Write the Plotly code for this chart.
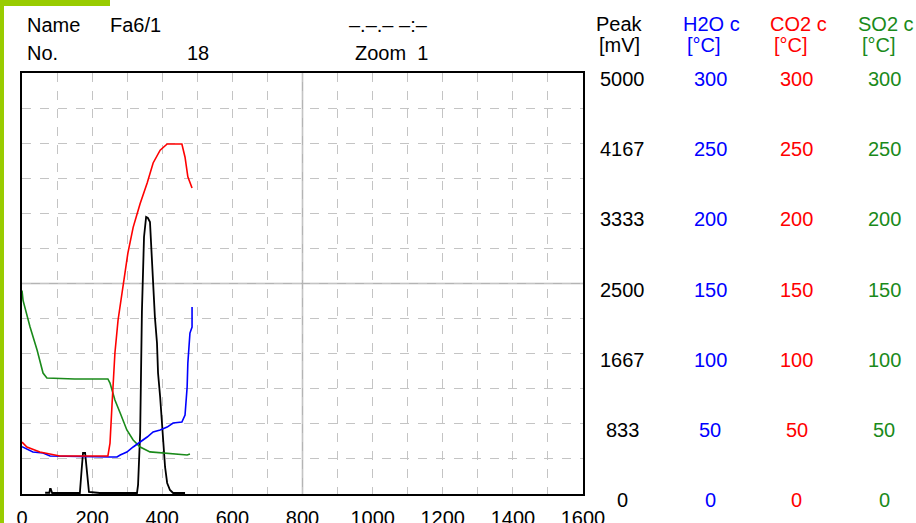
"""Thermogram Fa6/1 (No. 18): peak signal with H2O / CO2 / SO2 traces."""
import plotly.graph_objects as go

FONT = "Liberation Sans, Arial, sans-serif"
GRID = "#c4c4c4"
FRAME_GREEN = "#99cc00"

# Peak signal [mV]
peak_x = [66, 78, 80, 82, 86, 108, 165, 170, 172, 174, 180, 183, 186, 189, 191, 222,
          328, 331, 337, 342, 348, 354, 359, 365, 371, 374, 379, 385, 388, 394, 399,
          402, 408, 414, 422, 431, 465]
peak_mv = [15, 15, 60, 60, 12, 12, 12, 285, 487, 487, 487, 350, 225, 60, 24, 12,
           12, 107, 724, 2161, 3052, 3290, 3278, 3230, 2743, 2423, 2102, 1793, 1437,
           1152, 879, 606, 321, 131, 48, 12, 12]

# H2O c [°C scale]
h2o_x = [0, 31, 60, 80, 251, 271, 280, 299, 317, 337, 357, 374, 394, 414, 431,
         456, 465, 471, 473, 479, 485, 485]
h2o_v = [33.7, 29.9, 29.2, 27.1, 26.4, 26.4, 27.8, 29.9, 33.5, 37, 40.6, 44.2,
         45.6, 47.7, 50.6, 51.3, 56.3, 76.2, 93.3, 114.7, 119, 133.3]

# CO2 c [°C scale]
co2_x = [0, 14, 51, 88, 108, 245, 251, 257, 265, 274, 288, 302, 317, 337, 357,
         374, 394, 414, 456, 465, 473, 485]
co2_v = [37, 33.5, 29.9, 27.8, 27.1, 27.1, 36.3, 64.8, 100.5, 124, 147.5, 171.7,
         190, 207, 221.6, 235.9, 245, 249.4, 249.4, 240, 226, 218]

# SO2 c [°C scale]
so2_x = [0, 3, 23, 43, 60, 71, 150, 245, 251, 265, 280, 299, 317, 337, 365, 402,
         471, 479]
so2_v = [145, 138, 119, 102.6, 86.2, 82.7, 82, 82, 79, 67, 57.7, 45.6, 38.5,
         33.5, 30, 29.2, 27.8, 28.5]

x_ticks = [0, 200, 400, 600, 800, 1000, 1200, 1400, 1600]
peak_labels = ["5000", "4167", "3333", "2500", "1667", "833", "0"]
temp_labels = ["300", "250", "200", "150", "100", "50", "0"]

fig = go.Figure()
fig.add_trace(go.Scatter(x=peak_x, y=peak_mv, mode="lines", line=dict(color="black", width=1.8),
                         showlegend=False))
for xs, ys, col in [(so2_x, so2_v, "#1a8a1a"), (h2o_x, h2o_v, "#0000ff"), (co2_x, co2_v, "#ff0000")]:
    fig.add_trace(go.Scatter(x=xs, y=ys, mode="lines", yaxis="y2",
                             line=dict(color=col, width=1.6), showlegend=False))

fig.update_layout(
    width=916, height=523, autosize=False,
    margin=dict(l=22, r=333, t=73, b=29),
    paper_bgcolor="white", plot_bgcolor="white",
    font=dict(family=FONT, size=20, color="black"),
    xaxis=dict(range=[0, 1600], tickvals=x_ticks, showgrid=False, zeroline=False,
               showline=True, mirror=True, linecolor="black", linewidth=2,
               ticks="", ticklabelstandoff=5, automargin=False,
               minor=dict(dtick=100, tick0=0, showgrid=True, gridcolor=GRID, griddash="dash")),
    yaxis=dict(range=[0, 5000], tick0=0, dtick=5000 / 12, showticklabels=False,
               showgrid=True, gridcolor=GRID, griddash="dash", zeroline=False, automargin=False,
               showline=True, mirror=True, linecolor="black", linewidth=2, ticks=""),
    yaxis2=dict(range=[0, 300], overlaying="y", showgrid=False, showticklabels=False,
                zeroline=False, showline=False, automargin=False),
)

# solid centre lines
fig.add_shape(type="line", x0=800, x1=800, y0=0, y1=1, yref="paper",
              line=dict(color="#b4b4b4", width=1.5), layer="below")
fig.add_shape(type="line", x0=0, x1=1, xref="paper", y0=2500, y1=2500,
              line=dict(color="#b4b4b4", width=1.5), layer="below")

# green frame decoration
fig.add_shape(type="rect", xref="paper", yref="paper", x0=-22 / 561, x1=88 / 561,
              y0=1 + 67 / 421, y1=1 + 73 / 421, fillcolor=FRAME_GREEN, line_width=0)
fig.add_shape(type="rect", xref="paper", yref="paper", x0=-22 / 561, x1=-18 / 561,
              y0=-29 / 421, y1=1 + 73 / 421, fillcolor=FRAME_GREEN, line_width=0)


def px_text(text, x, y, color="black", anchor="left"):
    # x, y in page pixels -> paper coordinates of the plot area
    fig.add_annotation(text=text, x=(x - 22) / 561, y=(494 - y) / 421,
                       xref="paper", yref="paper", showarrow=False,
                       xanchor=anchor, yanchor="middle",
                       font=dict(family=FONT, size=20, color=color))


px_text("Name", 25, 25)
px_text("Fa6/1", 108, 25)
px_text("No.", 25, 53)
px_text("18", 198, 53, anchor="center")
px_text("–.–.– –:–", 388, 25, anchor="center")
px_text("Zoom  1", 353, 53)

px_text("Peak", 619, 24, anchor="center")
px_text("[mV]", 619, 45, anchor="center")
heads = [("H2O c", 681, "#0000ff", 710), ("CO2 c", 768, "#ff0000", 797), ("SO2 c", 856, "#1a8a1a", 884)]
for name, left, col, cx in heads:
    px_text(name, left, 24, col)
    px_text("[°C]", left + 4, 45, col)

for i, lab in enumerate(peak_labels):
    yy = 79 + i * 70.2
    px_text(lab, 622, yy, anchor="center")
    for name, left, col, cx in heads:
        px_text(temp_labels[i], cx, yy, col, anchor="center")

fig.write_html("out.html", config={"displayModeBar": False},
               post_script="document.body.style.margin='0';")
